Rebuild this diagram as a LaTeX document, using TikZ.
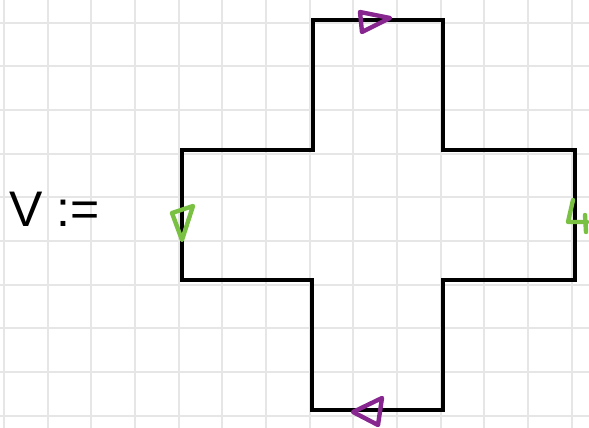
\documentclass[tikz,border=0pt]{standalone}
\usepackage{fontspec}
\newfontfamily\handfont{Liberation Sans}
\usetikzlibrary{positioning}
\definecolor{gridgray}{HTML}{E6E6E6}
\definecolor{markpurple}{HTML}{87268F}
\definecolor{markgreen}{HTML}{7AC143}

\begin{document}
\begin{tikzpicture}[
  x=1pt, y=-1pt,
  gridline/.style={draw=gridgray, line width=2.2pt},
  outline/.style={draw=black, line width=3.4pt},
  purplemark/.style={draw=markpurple, line width=4.4pt, line join=round, line cap=round},
  greenmark/.style={draw=markgreen, line width=4.4pt, line join=round, line cap=round}
]
  \useasboundingbox (0,0) rectangle (589,428);
  \fill[white] (0,0) rectangle (589,428);

  % squared paper
  \foreach \i in {0,...,13}
    \draw[gridline] ({4+43.67*\i},0) -- ({4+43.67*\i},428);
  \foreach \j in {0,...,9}
    \draw[gridline] (0,{22.7+43.67*\j}) -- (589,{22.7+43.67*\j});

  \node[anchor=base west, inner sep=0pt, font=\handfont\fontsize{50}{50}\selectfont]
    (vdef) at (9,226) {V :=};

  % the cross
  \draw[outline] (313,20) -- (443,20) -- (443,150) -- (575,150) -- (575,280)
    -- (443,280) -- (443,410) -- (312,410) -- (312,280) -- (182,280)
    -- (182,150) -- (313,150) -- cycle;

  % edge marks
  \draw[purplemark] (360,12) -- (362,32) -- (390,18) -- cycle;
  \draw[purplemark] (382,398) -- (353,412) -- (378,425) -- cycle;
  \draw[greenmark] (172,213) -- (193,206) -- (182,240) -- cycle;
  \draw[greenmark] (573,200) -- (568,222) -- (587,222);
  \draw[greenmark] (585,215) -- (586,232);
\end{tikzpicture}
\end{document}
